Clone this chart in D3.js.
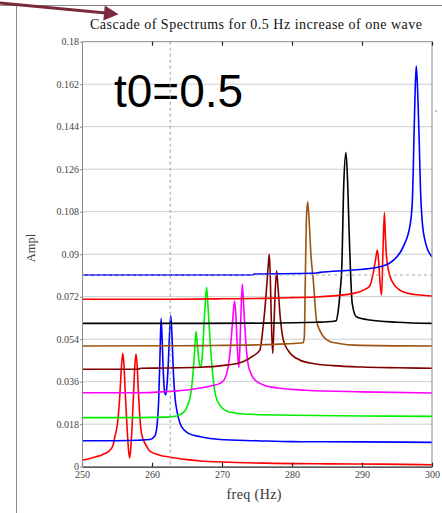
<!DOCTYPE html>
<html><head><meta charset="utf-8">
<script src="https://cdn.jsdelivr.net/npm/d3@7"></script>
<style>body{margin:0;background:#fff;} svg{display:block;}</style>
</head><body><svg id="c" width="442" height="513"></svg>
<script>
// ---------- data ----------
const titleText = "Cascade of Spectrums for 0.5 Hz increase of one wave";
const xLabel = "freq (Hz)";
const yLabel = "Ampl";
const note = "t0=0.5";
const xTicks = [250, 260, 270, 280, 290, 300];
const xTickLabels = ["250", "260", "270", "280", "290", "300"];
const yTicks = [0, 0.018, 0.036, 0.054, 0.072, 0.09, 0.108, 0.126, 0.144, 0.162, 0.18];
const yTickLabels = ["0", "0.018", "0.036", "0.054", "0.072", "0.09", "0.108", "0.126", "0.144", "0.162", "0.18"];
const markerFreq = 262.6;
const markerAmpl = 0.0812;
const seriesColors = ["#ff0000", "#0000ff", "#00ee00", "#ff00ff", "#800000", "#9a5312", "#000000", "#ff0000", "#0000ff"];

const s1 = [[250,0.0028],[251,0.0034],[252,0.0042],[253,0.0052],[253.8,0.0065],[254.4,0.0088],[254.7,0.0127],[255.1,0.019],[255.4,0.03],[255.65,0.043],[255.82,0.048],[256.0,0.043],[256.2,0.03],[256.45,0.016],[256.65,0.007],[256.8,0.0037],[256.95,0.007],[257.15,0.017],[257.35,0.03],[257.55,0.043],[257.72,0.0477],[257.9,0.042],[258.05,0.032],[258.2,0.024],[258.5,0.014],[259.2,0.0088],[259.7,0.0066],[261,0.005],[262.6,0.004],[265,0.003],[267,0.0024],[270,0.002],[276,0.0015],[285,0.0012],[293,0.0011],[300,0.0008]];
const s2 = [[250,0.011],[255,0.011],[258,0.0112],[259.7,0.0115],[260.4,0.013],[260.7,0.017],[260.95,0.028],[261.15,0.048],[261.3,0.0628],[261.45,0.054],[261.6,0.041],[261.75,0.033],[261.92,0.0304],[262.1,0.033],[262.3,0.042],[262.5,0.056],[262.68,0.064],[262.85,0.056],[263.05,0.04],[263.3,0.029],[263.6,0.023],[264,0.0184],[264.6,0.0155],[265.2,0.0141],[266.9,0.0127],[269.7,0.0115],[275,0.011],[280,0.0106],[290,0.0105],[300,0.0103]];
const s3 = [[250,0.0208],[258,0.0208],[262,0.021],[263.5,0.0215],[264.5,0.023],[265.1,0.026],[265.6,0.032],[265.95,0.043],[266.15,0.052],[266.3,0.0572],[266.5,0.051],[266.75,0.044],[267.0,0.042],[267.25,0.05],[267.5,0.064],[267.8,0.076],[268.0,0.068],[268.2,0.058],[268.45,0.047],[268.75,0.037],[269.1,0.03],[269.7,0.026],[271,0.0232],[274,0.0222],[280,0.0218],[290,0.0215],[300,0.0213]];
const s4 = [[250,0.0313],[258,0.0313],[262,0.0318],[265,0.0325],[266.9,0.0333],[268.5,0.0343],[269.7,0.0353],[270.3,0.0368],[270.8,0.041],[271.2,0.05],[271.5,0.061],[271.8,0.0703],[272.0,0.063],[272.2,0.05],[272.4,0.042],[272.55,0.05],[272.7,0.064],[272.9,0.0774],[273.1,0.068],[273.35,0.055],[273.7,0.044],[274.2,0.039],[274.8,0.0365],[276,0.0345],[278,0.0333],[282,0.0324],[290,0.0317],[300,0.0312]];
const s5 = [[250,0.0413],[258,0.0413],[258.4,0.0417],[262,0.0418],[266.9,0.0421],[270,0.0428],[273,0.0445],[274.5,0.047],[275.4,0.0494],[275.9,0.06],[276.3,0.073],[276.6,0.085],[276.76,0.09],[276.9,0.08],[277.05,0.062],[277.24,0.048],[277.4,0.058],[277.6,0.074],[277.8,0.083],[278.0,0.076],[278.3,0.064],[278.76,0.0537],[279.5,0.049],[281.1,0.0452],[283,0.0437],[285.9,0.0428],[290,0.0422],[295,0.0419],[300,0.0417]];
const s6 = [[250,0.0511],[262,0.0512],[267,0.0513],[275,0.0516],[279,0.052],[281.6,0.0525],[281.76,0.055],[281.9,0.079],[282.05,0.1045],[282.24,0.1122],[282.45,0.104],[282.7,0.09],[283.04,0.079],[283.5,0.062],[284.0,0.0575],[284.5,0.055],[285.4,0.053],[286.9,0.0521],[288.8,0.0515],[300,0.0511]];
const s7 = [[250,0.0607],[267,0.0607],[276,0.0608],[283.5,0.0612],[286.0,0.0616],[286.3,0.0618],[286.6,0.066],[286.9,0.075],[287.1,0.0833],[287.4,0.12],[287.7,0.133],[287.9,0.124],[288.2,0.096],[288.6,0.0692],[289.2,0.0635],[291.1,0.0621],[295,0.0612],[300,0.0607]];
const s8 = [[250,0.0709],[262,0.0709],[270,0.0711],[276.4,0.0713],[280,0.0716],[284,0.072],[288.8,0.0734],[290.5,0.0752],[291.1,0.0765],[291.6,0.0819],[291.9,0.087],[292.2,0.0918],[292.4,0.086],[292.6,0.077],[292.8,0.0727],[293.0,0.092],[293.2,0.1076],[293.35,0.097],[293.5,0.089],[293.8,0.083],[294.2,0.079],[295.4,0.0748],[296.5,0.0735],[298.3,0.0727],[300,0.0723]];
const s9 = [[250,0.0812],[274.4,0.0812],[274.6,0.0816],[283,0.0819],[284,0.0823],[288.8,0.0833],[292.6,0.0847],[294.5,0.0875],[295.9,0.0932],[296.9,0.103],[297.2,0.113],[297.45,0.1425],[297.6,0.16],[297.75,0.1697],[297.9,0.163],[298.05,0.15],[298.2,0.135],[298.35,0.118],[298.6,0.104],[299.1,0.0946],[300,0.0889]];
const allSeries = [s1, s2, s3, s4, s5, s6, s7, s8, s9];

// ---------- drawing ----------
const svg = d3.select("#c");
const serif = "'Liberation Serif','Times New Roman',serif";
const sans = "'Liberation Sans',Arial,sans-serif";
const L = 82, R = 432, T = 41.7, B = 466.7;
const x = d3.scaleLinear().domain([250, 300]).range([L, R]);
const y = d3.scaleLinear().domain([0, 0.18]).range([B, T]);

// page frame lines
svg.append("line").attr("x1", 0).attr("x2", 442).attr("y1", 5.5).attr("y2", 5.5).attr("stroke", "#8a8a8a").attr("stroke-width", 1);
svg.append("line").attr("x1", 16.5).attr("x2", 16.5).attr("y1", 5.5).attr("y2", 513).attr("stroke", "#8a8a8a").attr("stroke-width", 1);

// gridlines
svg.append("g").selectAll("line").data(yTicks.filter(d => d > 0 && d < 0.18)).join("line")
  .attr("x1", L).attr("x2", R).attr("y1", d => y(d)).attr("y2", d => y(d))
  .attr("stroke", "#cccccc").attr("stroke-width", 1);

// big note
svg.append("text").attr("x", 114).attr("y", 107).attr("font-family", sans).attr("font-size", 46)
  .attr("fill", "#000").text(note);

// traces
const line = d3.line().x(d => x(d[0])).y(d => y(d[1])).curve(d3.curveMonotoneX);
svg.append("g").selectAll("path").data(allSeries).join("path")
  .attr("d", line).attr("fill", "none")
  .attr("stroke", (d, i) => seriesColors[i]).attr("stroke-width", 1.6).attr("stroke-linejoin", "round");

// marker dashed lines
svg.append("line").attr("x1", x(markerFreq)).attr("x2", x(markerFreq)).attr("y1", T).attr("y2", B)
  .attr("stroke", "#9a9a9a").attr("stroke-width", 1).attr("stroke-dasharray", "3,3");
svg.append("line").attr("x1", L).attr("x2", R).attr("y1", y(markerAmpl)).attr("y2", y(markerAmpl))
  .attr("stroke", "#a8a8a8").attr("stroke-width", 1.2).attr("stroke-dasharray", "3,3");

// frame: top & right borders
svg.append("line").attr("x1", L).attr("x2", R).attr("y1", T).attr("y2", T).attr("stroke", "#8a8a8a");
svg.append("line").attr("x1", R).attr("x2", R).attr("y1", T).attr("y2", B).attr("stroke", "#8a8a8a");

// top axis ticks (inward)
const topAx = svg.append("g").attr("transform", `translate(0,${T})`)
  .call(d3.axisTop(x).tickValues(xTicks.slice(1)).tickSizeInner(-4).tickSizeOuter(0).tickFormat(""));
topAx.select(".domain").remove();
topAx.selectAll(".tick line").attr("stroke", "#222").attr("stroke-width", 1.2);

// bottom axis
const botAx = svg.append("g").attr("transform", `translate(0,${B})`)
  .call(d3.axisBottom(x).tickValues(xTicks).tickSizeInner(-4).tickSizeOuter(0).tickPadding(4)
    .tickFormat((d, i) => xTickLabels[i]));
botAx.select(".domain").attr("stroke", "#222").attr("stroke-width", 1.3);
botAx.selectAll(".tick line").attr("stroke", "#222").attr("stroke-width", 1.2);
botAx.selectAll("text").attr("font-family", serif).attr("font-size", 10).attr("fill", "#444");

// left axis
const leftAx = svg.append("g").attr("transform", `translate(${L},0)`)
  .call(d3.axisLeft(y).tickValues(yTicks).tickSizeInner(2).tickSizeOuter(0).tickPadding(1)
    .tickFormat((d, i) => yTickLabels[i]));
leftAx.select(".domain").attr("stroke", "#8a8a8a");
leftAx.selectAll(".tick line").attr("stroke", "#8a8a8a");
leftAx.selectAll("text").attr("font-family", serif).attr("font-size", 10).attr("fill", "#444");

// small mark at right
svg.append("line").attr("x1", 435).attr("x2", 437.5).attr("y1", 111).attr("y2", 111).attr("stroke", "#999");

// title and axis labels
svg.append("text").attr("x", 256).attr("y", 28.5).attr("text-anchor", "middle")
  .attr("font-family", serif).attr("font-size", 14).attr("fill", "#111")
  .attr("textLength", 332).attr("lengthAdjust", "spacing").text(titleText);
svg.append("text").attr("x", 254).attr("y", 498.5).attr("text-anchor", "middle")
  .attr("font-family", serif).attr("font-size", 14).attr("fill", "#333")
  .attr("textLength", 55).attr("lengthAdjust", "spacing").text(xLabel);
svg.append("text").attr("transform", "translate(34.5,248) rotate(-90)").attr("text-anchor", "middle")
  .attr("font-family", serif).attr("font-size", 12.5).attr("fill", "#444").text(yLabel);

// arrow
const arrowColor = "#7b2a3b";
svg.append("line").attr("x1", -1).attr("y1", 3).attr("x2", 106).attr("y2", 13)
  .attr("stroke", arrowColor).attr("stroke-width", 3);
svg.append("polygon").attr("points", "118.5,14.3 104.8,5.6 103.3,20.4").attr("fill", arrowColor);
</script>
</body></html>
